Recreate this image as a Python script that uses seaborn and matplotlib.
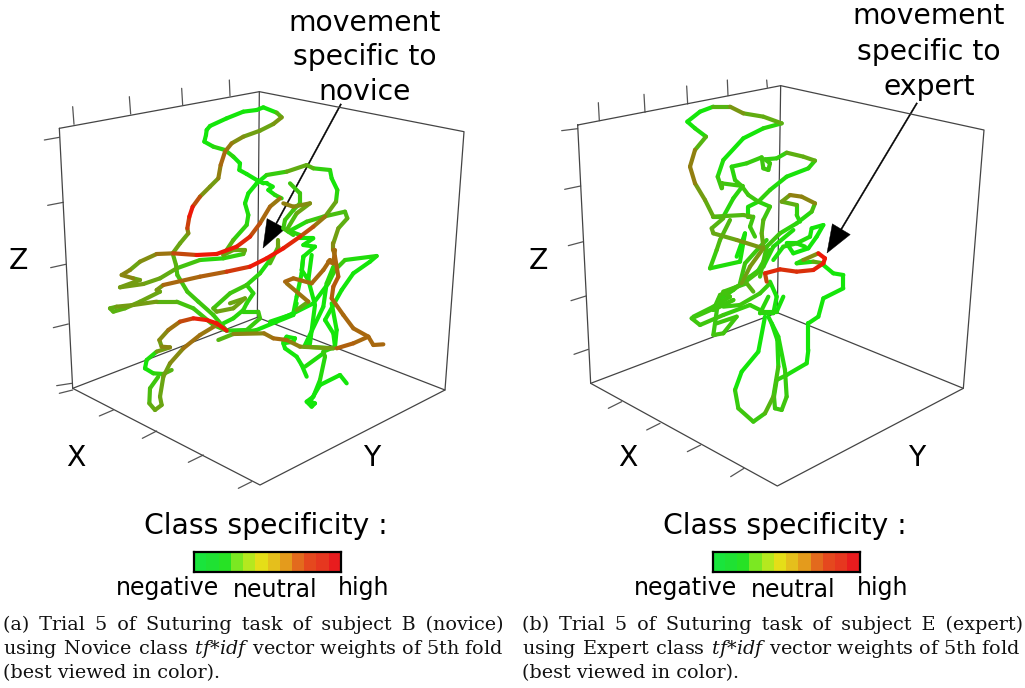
import pandas as pd
import numpy as np
import matplotlib
matplotlib.use('Agg')
import matplotlib.pyplot as plt
from matplotlib.colors import LinearSegmentedColormap, ListedColormap
import seaborn as sns

# trajectory points: (x, y, specificity 0 green .. 3 red)
nov_a = [(620,150,0),(630,138,0),(680,115,0),(730,95,0),(770,90,0),(790,82,0),(830,98,0),(845,112,1.5),(820,132,1),(780,152,1),(730,170,1.2),(695,190,1.5),
         (675,215,2),(662,255,2),(655,295,1.3),(630,320,1),(600,350,1.6),(578,380,3),(568,410,3),(562,445,2),(565,460,1),(540,490,1),(518,520,1),
         (528,555,.6),(532,585,.6),(562,635,.5),(595,665,.5),(640,705,.5),(680,752,.3)]
nov_b = [(620,150,0),(618,165,0),(613,185,0),(640,200,0),(675,210,.5),(700,230,0),(720,250,0),(718,270,0),(740,282,0),(770,300,0),(790,310,0),(800,310,0),
         (818,320,0),(805,330,0),(825,345,0),(845,355,.5)]
nov_c = [(365,585,2),(400,595,1),(420,600,1),(360,622,1.3),(430,612,1),(480,595,1),(530,565,.8),(600,540,.3),(670,535,.2),(730,522,.5),(735,510,1),(700,510,1),(670,525,1)]
nov_d = [(840,355,1.5),(810,380,2),(780,430,2),(750,470,2.6),(710,500,3),(650,522,3),(590,525,3),(520,520,1.8),(470,522,1.8),(420,545,1),(390,570,1),(365,585,2)]
nov_e = [(670,525,1),(700,480,.5),(740,435,.2),(745,405,.2),(735,370,0),(745,340,0),(770,310,0),(800,285,0),(860,275,.8),(920,255,1),(940,265,.5),(990,270,.2),(995,295,0),
         (1012,330,0),(1008,365,.5),(975,410,1.5),(940,440,2),(900,470,2.6),(850,505,3),(800,535,3),(750,560,3),(680,575,2.2),(600,590,2),(490,615,2)]
nov_f = [(490,615,1.5),(470,630,1),(480,635,1),(420,665,1),(375,685,.8),(340,695,.8),(330,685,.8),(350,680,1),(400,675,1.3),(470,665,1),(530,665,.6),(580,685,.5),(640,735,.5),(675,750,.5)]
nov_g = [(680,752,3),(650,730,3),(620,720,3),(580,715,2.8),(540,725,2),(505,750,1.7),(478,780,1.2),(485,800,1),(510,802,2),(470,815,.3),(440,840,0),(435,865,0),(460,880,.1),(490,882,.5),(515,870,1)]
nov_h = [(650,735,1.5),(600,765,2),(550,805,1.7),(510,850,1.2),(490,890,1),(480,950,1),(485,975,1),(465,990,1),(448,970,.8),(450,925,.5),(475,890,.5)]
nov_i = [(810,540,.1),(780,580,.1),(740,615,.5),(690,640,.5),(640,685,.5),(650,695,1),(700,685,1.2),(735,655,1),(690,670,1)]
nov_j = [(740,615,.3),(760,640,.3),(740,670,.3),(730,690,.3),(700,715,.2),(670,730,.2)]
nov_k = [(730,695,.2),(775,695,.5),(780,715,.5),(740,750,.3),(680,752,.2)]
nov_l = [(890,670,0),(880,705,0),(830,725,0),(770,750,0),(700,762,.5),(655,780,1)]
nov_m = [(700,762,1.5),(792,760,1.5),(820,775,2),(860,780,1.9),(900,800,1.3),(1000,805,1)]
nov_n = [(850,785,0),(860,770,0),(885,775,0),(880,785,0),(850,790,0),(855,805,0),(890,830,0),(905,855,0),(920,890,0)]
nov_o = [(1150,793,2),(1120,795,2),(1105,770,2),(1060,790,2),(1010,805,2.2)]
nov_p = [(1105,770,2),(1060,745,2),(1030,705,2),(995,655,2),(1000,620,2.2),(1015,590,2.2),(1005,530,1.9),(1000,510,1.9)]
nov_q = [(855,605,2),(880,595,2),(935,610,2),(970,570,2),(990,540,2),(985,545,2),(1000,550,2),(1005,510,1.9)]
nov_r = [(860,610,2),(925,665,1.6),(890,690,.2)]
nov_s = [(810,725,0),(870,705,0),(940,670,0),(985,610,0),(1005,570,.6),(1035,540,.3),(1130,528,0),(1110,545,0),(1060,580,0),(1025,630,0),(975,720,0),(1000,760,0),(1005,800,0)]
nov_t = [(910,530,0),(905,580,0),(890,650,0),(880,700,0),(810,730,0)]
nov_u = [(935,525,0),(925,600,0),(945,675,0),(930,790,0),(915,800,0),(1000,805,.3)]
nov_v = [(915,795,0),(970,680,0),(980,610,0),(1000,560,.4)]
nov_w = [(995,670,0),(1010,750,0),(1005,800,0),(970,815,.5),(975,830,.4),(960,900,0),(940,950,0),(920,965,0),(935,980,0),(945,970,0),(930,965,0),(960,915,0),(1020,885,0),(1040,910,0)]
nov_x = [(970,820,.3),(915,860,0)]
nov_y = [(870,310,.5),(900,340,.5),(900,370,.5),(880,390,.5),(855,420,.5),(850,445,.5),(880,465,.2)]
nov_z = [(850,370,1.6),(880,380,1.6),(930,370,1.2),(890,400,.8),(860,450,.5),(900,465,0)]
nov_aa = [(865,455,0),(920,425,.3),(970,410,.6),(1035,395,.6),(1042,415,.7),(1015,445,1),(1000,490,1.2),(1000,510,1.6)]
nov_ab = [(900,475,0),(940,475,0),(910,495,0),(945,500,0),(910,530,0),(905,570,0),(925,600,0)]
nov_ac = [(835,480,1),(835,500,1),(810,550,.3)]

exp_a = [(785,130,1),(730,110,.8),(670,100,1),(630,80,1.5),(580,80,0),(540,95,0),(502,125,0),(525,145,0),(558,170,.3),(525,210,1.2),(510,260,2),(525,310,1.3),(555,360,1),(580,410,.8),
         (610,410,.4),(640,355,.1),(668,318,.4),(605,310,.6),(605,325,.6),(593,290,.3),(610,240,0),(670,175,0),(730,145,0),(785,130,.5)]
exp_b = [(665,318,.5),(645,300,.3),(635,260,.2),(680,250,.3),(725,232,.5),(730,265,.5),(745,270,.5),(750,250,.5),(735,238,.5),(770,235,.2),(800,218,.5),(850,230,1.2),(885,242,.6),
         (865,265,0),(800,290,.1),(750,330,.2),(715,365,.5),(685,345,.5),(665,318,.5)]
exp_c = [(715,365,.3),(750,380,.3),(730,420,.7),(725,460,.8),(730,500,1)]
exp_d = [(715,365,.3),(685,380,0),(685,410,.2),(700,410,.5),(690,440,.5),(705,470,.5)]
exp_e = [(580,410,.6),(670,405,.8),(695,410,.8)]
exp_f = [(610,415,.6),(575,445,.9),(580,460,.9),(650,480,1),(730,505,1.5),(690,560,1),(665,610,1.2)]
exp_g = [(630,420,.7),(600,480,.7),(590,510,.6),(570,565,.2),(660,545,.1),(675,460,0),(650,530,0)]
exp_h = [(785,365,1),(810,345,1.2),(845,350,2),(885,370,1),(875,395,.2),(830,430,.2),(780,460,.4),(740,500,.6),(720,590,.4)]
exp_i = [(785,365,1.2),(830,375,.5),(830,405,.2),(840,425,.2)]
exp_j = [(910,435,0),(890,470,0),(865,505,0),(820,520,0),(800,490,0),(830,490,0),(855,500,.2)]
exp_k = [(910,435,0),(875,445,0),(870,470,0),(830,490,.3),(790,500,.2),(760,540,0)]
exp_l = [(895,520,3),(915,535,3),(910,550,3),(880,570,2.8),(830,575,2.6),(780,568,2.8),(735,580,2.8),(740,605,2)]
exp_m = [(895,520,2.5),(850,540,.3),(830,550,0),(880,545,.3),(910,550,1.5)]
exp_n = [(910,555,0),(940,580,0),(970,585,0),(970,625,0),(910,655,0),(895,710,0),(865,730,0),(865,810,0),(860,850,0),(800,885,.2),(770,900,.5),(762,950,.5),(765,985,.5),(785,990,.5),(800,950,.5),(795,870,.3),(775,770,.1),(745,710,.1)]
exp_o = [(735,710,0),(715,815,0),(665,875,0),(645,930,0),(655,985,.8),(700,1025,.2),(735,1000,.7),(760,950,.8),(775,860,.3),(772,780,.1),(755,730,.1)]
exp_p = [(520,710,.4),(580,680,.5),(630,650,.5),(610,635,.6),(680,610,.5),(700,635,1)]
exp_q = [(515,715,.5),(540,735,.5),(610,705,.5),(690,675,.3),(730,695,.4),(770,695,.1),(790,650,0)]
exp_r = [(580,765,.6),(610,760,.5),(650,710,.5),(590,730,.5)]
exp_s = [(580,765,.5),(595,660,.4),(640,630,.4),(690,590,.5),(730,560,.3),(760,500,.2),(820,450,.1)]
exp_t = [(610,680,.4),(660,675,.5),(720,640,.5),(750,610,.3)]
exp_u = [(660,610,.5),(675,550,.5),(720,500,.4),(740,480,.4)]
exp_v = [(750,510,.3),(710,580,.5),(670,610,.6),(600,645,.5),(580,690,.5),(640,660,.5),(515,715,.5)]
exp_w = [(750,605,.1),(770,650,0),(760,700,.1),(720,700,.3),(745,650,.2)]

novice_paths = [nov_a,nov_b,nov_c,nov_d,nov_e,nov_f,nov_g,nov_h,nov_i,nov_j,nov_k,nov_l,nov_m,nov_n,nov_o,nov_p,nov_q,nov_r,nov_s,nov_t,nov_u,nov_v,nov_w,nov_x,nov_y,nov_z,nov_aa,nov_ab,nov_ac]
expert_paths = [exp_a,exp_b,exp_c,exp_d,exp_e,exp_f,exp_g,exp_h,exp_i,exp_j,exp_k,exp_l,exp_m,exp_n,exp_o,exp_p,exp_q,exp_r,exp_s,exp_t,exp_u,exp_v,exp_w]

# wireframe boxes
novice_box = [[(178,145),(778,35),(1392,155),(1335,930),(780,1215),(218,925),(178,145)],[(778,35),(772,712)],[(218,925),(772,712),(1335,930)]]
expert_box = [[(173,135),(782,17),(1392,150),(1330,925),(772,1218),(212,910),(173,135)],[(782,17),(772,698)],[(212,910),(772,698),(1330,925)]]
novice_ticks = [[(222,133),(218,80)],[(392,102),(388,50)],[(548,75),(545,25)],[(690,48),(688,0)],
                [(178,172),(133,180)],[(190,367),(143,376)],[(197,553),(152,563)],[(205,732),(160,743)],[(215,910),(170,917)],
                [(218,930),(178,940)],[(340,990),(298,1008)],[(470,1053),(427,1075)],[(610,1125),(565,1147)],[(755,1205),(715,1225)]]
expert_ticks = [[(238,122),(235,68)],[(375,97),(372,43)],[(503,72),(500,18)],[(624,47),(622,0)],[(742,22),(740,0)],
                [(173,146),(125,152)],[(182,318),(134,328)],[(190,485),(145,497)],[(198,648),(153,662)],[(205,808),(162,823)],
                [(305,965),(265,985)],[(420,1030),(380,1050)],[(542,1095),(502,1115)],[(672,1165),(632,1190)]]

bar_colors = ['#19e43c','#1fe133','#27e225','#7be822','#b5e81f','#e5de18','#e5bf1c','#e49b1c','#e36a1d','#e5481e','#e6371f','#e81c1e']
bar_levels = list(range(12))

caption_a = ['(a) Trial 5 of Suturing task of subject B (novice)',
             'using Novice class $\\mathit{tf{*}idf}$ vector weights of 5th fold',
             '(best viewed in color).']
caption_b = ['(b) Trial 5 of Suturing task of subject E (expert)',
             'using Expert class $\\mathit{tf{*}idf}$ vector weights of 5th fold',
             '(best viewed in color).']

sns.set_theme(style='white')
plt.rcParams['font.family'] = 'DejaVu Sans'
plt.rcParams['mathtext.fontset'] = 'dejavuserif'
plt.rcParams['text.color'] = 'black'

W, H = 1025, 688
fig = plt.figure(figsize=(W/100, H/100), dpi=100)
page = fig.add_axes([0, 0, 1, 1])
page.set_xlim(0, W)
page.set_ylim(H, 0)
page.axis('off')

spec_cmap = LinearSegmentedColormap.from_list('spec', ['#14e60a', '#6aa512', '#a8680f', '#ee1808'])


def segments(paths):
    rows = []
    n = 0
    for p in paths:
        for a, b in zip(p[:-1], p[1:]):
            lev = (a[2] + b[2]) / 2
            rows.append((a[0], a[1], n, lev))
            rows.append((b[0], b[1], n, lev))
            n += 1
    return pd.DataFrame(rows, columns=['x', 'y', 'seg', 'level'])


def wire(lines):
    rows = []
    for i, l in enumerate(lines):
        for pt in l:
            rows.append((pt[0], pt[1], i))
    return pd.DataFrame(rows, columns=['x', 'y', 'line'])


def panel(left, box, ticks, paths):
    # panel axes work in 3x picture units, y=0 is 80px from the top
    ax = fig.add_axes([left/W, (H-500)/H, 500/W, 500/H])
    ax.set_xlim(0, 1500)
    ax.set_ylim(1260, -240)
    ax.axis('off')
    ax.patch.set_alpha(0)
    sns.lineplot(data=wire(ticks), x='x', y='y', units='line', estimator=None, sort=False,
                 color='#555555', lw=0.9, ax=ax, legend=False)
    sns.lineplot(data=wire(box), x='x', y='y', units='line', estimator=None, sort=False,
                 color='#444444', lw=0.9, ax=ax, legend=False)
    sns.lineplot(data=segments(paths), x='x', y='y', units='seg', hue='level', estimator=None, sort=False,
                 palette=spec_cmap, hue_norm=(0, 3), lw=3.0, ax=ax, legend=False)
    ax.set_xlabel('')
    ax.set_ylabel('')
    return ax


panel(0, novice_box, novice_ticks, novice_paths)
panel(520, expert_box, expert_ticks, expert_paths)


def colorbar(left):
    ax = fig.add_axes([left/W, (H-572)/H, 147/W, 20/H])
    sns.heatmap(np.array([bar_levels]), cmap=ListedColormap(bar_colors), cbar=False, ax=ax,
                xticklabels=False, yticklabels=False, linewidths=0)
    for s in ax.spines.values():
        s.set_visible(True)
        s.set_color('black')
        s.set_linewidth(1.6)


colorbar(194)
colorbar(712.5)

fs = 20.3
for dx, z, xl, yl in [(0, 18, 76, 372), (1, 538, 628, 917)]:
    page.text(z, 261, 'Z', fontsize=fs, ha='center', va='center')
    page.text(xl, 458, 'X', fontsize=fs, ha='center', va='center')
    page.text(yl, 458, 'Y', fontsize=fs, ha='center', va='center')
    off = 518.5 * dx
    page.text(266 + off, 526, 'Class specificity :', fontsize=fs, ha='center', va='center')
    page.text(167.5 + off, 588, 'negative', fontsize=17, ha='center', va='center')
    page.text(275 + off, 590, 'neutral', fontsize=17, ha='center', va='center')
    page.text(364 + off, 588, 'high', fontsize=17, ha='center', va='center')

for y, t in zip([23, 57, 92], ['movement', 'specific to', 'novice']):
    page.text(365, y, t, fontsize=fs, ha='center', va='center')
for y, t in zip([16, 52, 87], ['movement', 'specific to', 'expert']):
    page.text(929, y, t, fontsize=fs, ha='center', va='center')

arrow = dict(facecolor='black', edgecolor='black', linewidth=0.3, width=0.9, headwidth=15, headlength=20, shrink=0)
page.annotate('', xy=(263, 248), xytext=(341, 104), arrowprops=arrow)
page.annotate('', xy=(827, 253), xytext=(917, 103), arrowprops=arrow)

# the first two caption lines are justified, so their word gaps are stretched
for x, lines in [(3, caption_a), (522, caption_b)]:
    for i, (y, t) in enumerate(zip([625, 649, 673], lines)):
        if i == 0:
            t = t.replace(' ', ' \u2009')
        elif i == 1:
            t = t.replace(' ', ' \u200a', 4)
        page.text(x, y, t, fontsize=13.8, family='DejaVu Serif', ha='left', va='center', color='#111111')

fig.savefig('out.png', dpi=100)
